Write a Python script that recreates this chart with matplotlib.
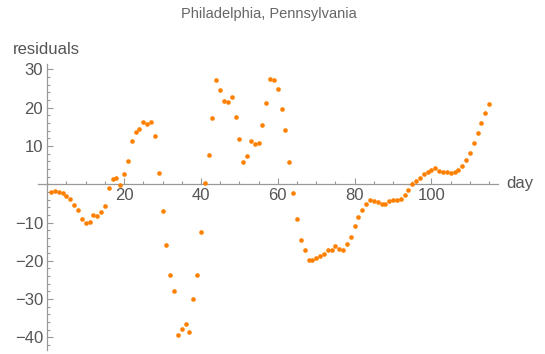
import matplotlib
matplotlib.use('Agg')
import matplotlib.pyplot as plt
from matplotlib.ticker import FixedLocator, MultipleLocator

plt.rcParams['font.family'] = ['Liberation Sans', 'DejaVu Sans']

title = "Philadelphia, Pennsylvania"
x_label = "day"
y_label = "residuals"

days = list(range(1, 116))
residuals = [
    -2.1, -1.8, -1.9, -2.2, -3.0, -3.8, -5.4, -6.7, -9.0, -10.0,
    -9.8, -8.0, -8.4, -7.3, -5.7, -1.0, 1.5, 1.7, -0.2, 2.6,
    6.1, 11.2, 13.7, 14.4, 16.3, 15.7, 16.2, 12.6, 2.9, -7.0,
    -15.8, -23.6, -27.9, -39.3, -37.9, -36.5, -38.6, -30.0, -23.8, -12.6,
    0.3, 7.6, 17.2, 27.2, 24.6, 21.7, 21.6, 22.8, 17.7, 11.8,
    5.9, 7.4, 11.3, 10.4, 10.7, 15.6, 21.3, 27.5, 27.3, 24.9,
    19.7, 14.3, 5.8, -2.4, -9.1, -14.5, -17.1, -19.8, -19.8, -19.2,
    -18.7, -18.1, -17.2, -17.2, -16.1, -16.9, -17.3, -15.5, -13.7, -10.9,
    -8.5, -6.7, -5.1, -4.0, -4.4, -4.7, -5.2, -5.1, -4.3, -4.0,
    -4.1, -3.8, -2.9, -1.6, 0.1, 0.9, 1.7, 2.6, 3.2, 3.8,
    4.3, 3.4, 3.1, 3.1, 2.9, 3.1, 3.6, 4.7, 6.3, 8.1,
    10.8, 13.5, 16.1, 18.7, 21.0,
]

x_ticks = [20, 40, 60, 80, 100]
y_ticks = [-40, -30, -20, -10, 10, 20, 30]

W, H = 545, 354
fig = plt.figure(figsize=(W / 100, H / 100), dpi=100)
ax = fig.add_axes([38.3 / W, 4 / H, 460 / W, 286.3 / H])

ax.scatter(days, residuals, s=11, color='#ff8000', linewidths=0, zorder=3)

ax.set_xlim(-2.34, 117.4)
ax.set_ylim(-43.3, 31.5)

for s in ['top', 'right']:
    ax.spines[s].set_visible(False)
ax.spines['left'].set_position(('data', 0))
ax.spines['bottom'].set_position(('data', 0))
for s in ['left', 'bottom']:
    ax.spines[s].set_color('#999999')
    ax.spines[s].set_linewidth(0.9)

ax.xaxis.set_major_locator(FixedLocator(x_ticks))
ax.xaxis.set_minor_locator(MultipleLocator(5))
ax.yaxis.set_major_locator(FixedLocator(y_ticks))
ax.yaxis.set_minor_locator(MultipleLocator(2))

ax.tick_params(which='both', direction='in', color='#999999', width=0.8,
               labelcolor='#555555', labelsize=12)
ax.tick_params(which='major', length=4.5, pad=3)
ax.tick_params(which='minor', length=2.5)

fig.text(269 / W, 1 - 14 / H, title, ha='center', va='center',
         fontsize=10.5, color='#666666')
fig.text(13 / W, 1 - 50 / H, y_label, ha='left', va='center',
         fontsize=12, color='#555555')
fig.text(506.5 / W, 1 - 183.5 / H, x_label, ha='left', va='center',
         fontsize=12, color='#555555')

fig.savefig('out.png', dpi=100)
